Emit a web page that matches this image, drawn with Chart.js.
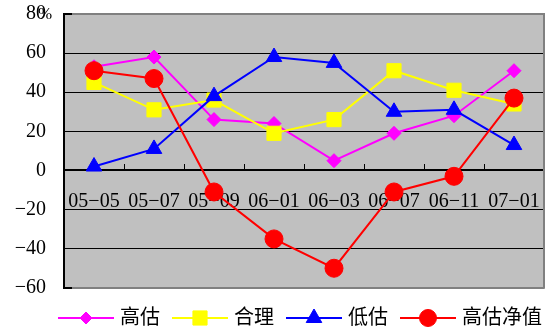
<!DOCTYPE html>
<html>
<head>
<meta charset="utf-8">
<script src="https://cdn.jsdelivr.net/npm/chart.js@4/dist/chart.umd.min.js"></script>
<style>
  html, body { margin: 0; padding: 0; background: #fff; }
  #wrap { width: 555px; height: 329px; }
</style>
</head>
<body>
<div id="wrap"><canvas id="c" width="555" height="329"></canvas></div>
<script>
// Survey periods (year-month)
const periods = ['05-05', '05-07', '05-09', '06-01', '06-03', '06-07', '06-11', '07-01'];
// Share of each valuation group, %
const overValued    = [53, 58, 26, 24, 5, 19, 28, 51];       // 高估
const fairValued    = [45, 31, 36, 19, 26, 51, 41, 34];      // 合理
const underValued   = [2, 11, 38, 58, 55, 30, 31, 13];       // 低估
const overValuedNet = [51, 47, -11, -35, -50, -11, -3, 37];  // 高估净值
const seriesNames = ['高估', '合理', '低估', '高估净值'];
const yTicks = [-60, -40, -20, 0, 20, 40, 60, 80];

const seriesValues = [overValued, fairValued, underValued, overValuedNet];
const seriesStyle = [
  { color: '#FF00FF', pointStyle: 'rectRot',  radius: 7,  legendRadius: 6 },
  { color: '#FFFF00', pointStyle: 'rect',     radius: 10, legendRadius: 10 },
  { color: '#0000FF', pointStyle: 'triangle', radius: 9,  legendRadius: 9 },
  { color: '#FF0000', pointStyle: 'circle',   radius: 9,  legendRadius: 8.5 }
];

const MINUS = '\u2212';

function drawMarker(g, style, x, y, r) {
  g.beginPath();
  if (style === 'circle') {
    g.arc(x, y, r, 0, Math.PI * 2);
  } else if (style === 'rect') {
    const s = r * Math.SQRT1_2;
    g.rect(x - s, y - s, 2 * s, 2 * s);
  } else if (style === 'rectRot') {
    g.moveTo(x - r, y); g.lineTo(x, y - r); g.lineTo(x + r, y); g.lineTo(x, y + r);
    g.closePath();
  } else if (style === 'triangle') {
    const a = 2 * Math.PI / 3;
    g.moveTo(x, y - r);
    g.lineTo(x + r * Math.sin(a), y - r * Math.cos(a));
    g.lineTo(x + r * Math.sin(2 * a), y - r * Math.cos(2 * a));
    g.closePath();
  }
  g.fill();
  g.stroke();
}

// Legend swatch: a short line with the series marker in the middle,
// set slightly below the text centre
function legendSwatch(st) {
  const cv = document.createElement('canvas');
  cv.width = 56; cv.height = 26;
  const g = cv.getContext('2d');
  g.strokeStyle = st.color;
  g.fillStyle = st.color;
  g.lineWidth = 2;
  g.beginPath(); g.moveTo(0, 15); g.lineTo(56, 15); g.stroke();
  g.lineWidth = 1;
  drawMarker(g, st.pointStyle, 28, 15, st.legendRadius);
  return cv;
}
const swatches = seriesStyle.map(legendSwatch);

// Grey plot area, right frame edge, legend offset and the % unit mark
const plotFrame = {
  id: 'plotFrame',
  afterLayout(chart) {
    // one legend row, sitting a little right of the canvas centre
    chart.legend.left = 44;
    chart.legend.right = 560;
  },
  beforeDraw(chart) {
    const { ctx, chartArea: a } = chart;
    ctx.save();
    ctx.fillStyle = '#C0C0C0';
    ctx.fillRect(a.left, a.top, a.right - a.left, a.bottom - a.top);
    ctx.restore();
  },
  beforeDatasetsDraw(chart) {
    const { ctx, chartArea: a } = chart;
    ctx.save();
    ctx.strokeStyle = '#808080';
    ctx.lineWidth = 2;
    ctx.beginPath();
    ctx.moveTo(a.right, a.top - 1);
    ctx.lineTo(a.right, a.bottom + 1);
    ctx.stroke();
    ctx.restore();
  },
  afterDraw(chart) {
    const { ctx } = chart;
    const ys = chart.scales.y;
    ctx.save();
    ctx.fillStyle = '#000';
    ctx.font = '17px "Liberation Serif"';
    ctx.textAlign = 'left';
    ctx.textBaseline = 'middle';
    ctx.fillText('%', ys.right - 26, ys.getPixelForValue(yTicks[yTicks.length - 1]) + 1);
    ctx.restore();
  }
};

const edgeTick = v => v === yTicks[0] || v === yTicks[yTicks.length - 1];

new Chart(document.getElementById('c'), {
  type: 'line',
  data: {
    labels: periods,
    datasets: seriesValues.map((vals, i) => ({
      label: seriesNames[i],
      data: vals,
      borderColor: seriesStyle[i].color,
      backgroundColor: seriesStyle[i].color,
      borderWidth: 2,
      pointStyle: seriesStyle[i].pointStyle,
      pointRadius: seriesStyle[i].radius,
      pointHoverRadius: seriesStyle[i].radius,
      pointBorderWidth: 1,
      tension: 0,
      fill: false,
      order: seriesValues.length - 1 - i
    }))
  },
  options: {
    responsive: false,
    animation: false,
    devicePixelRatio: 1,
    layout: { padding: { top: 14, right: 4, bottom: -7, left: 0 } },
    scales: {
      x: {
        type: 'category',
        position: { y: 0 },
        offset: true,
        afterFit: s => { s.paddingLeft = 0; s.paddingRight = 0; },
        grid: {
          display: true,
          drawOnChartArea: false,
          drawTicks: true,
          tickLength: -7,
          color: '#000',
          lineWidth: 1,
          offset: true
        },
        border: { display: true, color: '#000', width: 2 },
        ticks: {
          color: '#000',
          font: { family: '"Liberation Serif"', size: 20 },
          padding: 26,
          maxRotation: 0,
          autoSkip: false,
          callback: (v, i) => periods[i].replace('-', MINUS)
        }
      },
      y: {
        min: yTicks[0],
        max: yTicks[yTicks.length - 1],
        afterBuildTicks: s => { s.ticks = yTicks.map(v => ({ value: v })); },
        afterFit: s => { s.width = 64; s.paddingTop = 0; s.paddingBottom = 0; },
        grid: {
          color: c => (c.tick && edgeTick(c.tick.value)) ? '#808080' : '#000',
          lineWidth: c => (c.tick && edgeTick(c.tick.value)) ? 2 : 1,
          tickColor: '#000',
          tickLength: -8,
          drawTicks: true
        },
        border: { display: true, color: '#000', width: 2 },
        ticks: {
          color: '#000',
          font: { family: '"Liberation Serif"', size: 20 },
          padding: 26,
          callback: v => String(v).replace('-', MINUS)
        }
      }
    },
    plugins: {
      tooltip: { enabled: false },
      legend: {
        position: 'bottom',
        align: 'center',
        fullSize: true,
        title: { display: true, text: '', padding: { top: 1, bottom: 0 }, font: { size: 1 } },
        labels: {
          usePointStyle: true,
          pointStyleWidth: 48,
          padding: 16,
          color: '#000',
          font: { family: '"Noto Sans CJK SC"', size: 20 },
          generateLabels: chart => chart.data.datasets.map((ds, i) => ({
            text: ds.label,
            datasetIndex: i,
            pointStyle: swatches[i],
            fillStyle: seriesStyle[i].color,
            strokeStyle: seriesStyle[i].color,
            lineWidth: 0,
            hidden: false,
            fontColor: '#000'
          }))
        }
      }
    }
  },
  plugins: [plotFrame]
});
</script>
</body>
</html>
